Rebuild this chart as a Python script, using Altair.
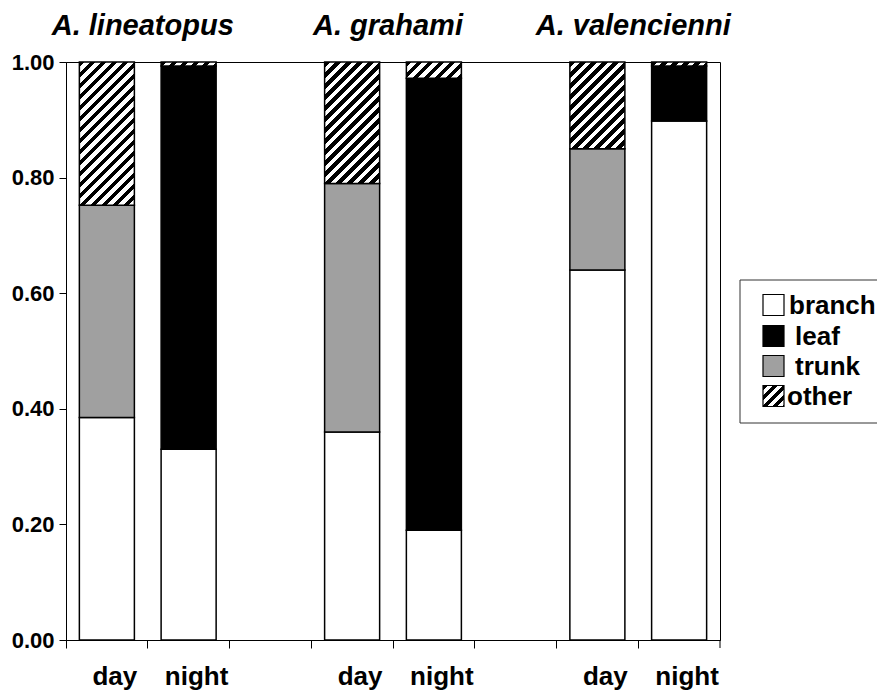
import altair as alt
import pandas as pd

# ---------------- data ----------------
categories = ["lineatopus day", "lineatopus night", "gap1",
              "grahami day", "grahami night", "gap2",
              "valencienni day", "valencienni night"]
bars = ["lineatopus day", "lineatopus night", "grahami day",
        "grahami night", "valencienni day", "valencienni night"]
branch = [0.385, 0.330, 0.360, 0.190, 0.640, 0.898]
leaf = [0.000, 0.663, 0.000, 0.782, 0.000, 0.095]
trunk = [0.367, 0.000, 0.430, 0.000, 0.210, 0.000]
other = [0.248, 0.007, 0.210, 0.028, 0.150, 0.007]

species = ["A. lineatopus", "A. grahami", "A. valencienni"]
species_anchor = ["lineatopus night", "grahami night", "valencienni night"]

legend_names = ["branch", "leaf", "trunk", "other"]
part_names = ["branch", "leaf", "trunk"]
part_colors = ["white", "black", "#a0a0a0"]
y_ticks = [0.0, 0.2, 0.4, 0.6, 0.8, 1.0]

# ---------------- layout ----------------
W, H = 654, 578
BAND_FRAC = 0.673
BAR_W = W / len(categories) * BAND_FRAC
FONT = "Liberation Sans"

rows = []
for i, b in enumerate(bars):
    base = 0.0
    for name, vals in (("branch", branch), ("leaf", leaf), ("trunk", trunk), ("other", other)):
        v = vals[i]
        if v > 0:
            rows.append({"cat": b, "part": name, "y0": round(base, 4), "y1": round(base + v, 4)})
        base += v
seg = pd.DataFrame(rows)
solid = seg[seg.part != "other"]
hatched = seg[seg.part == "other"].reset_index(drop=True)


def hatch(w, h, period=11.0):
    w = float(w)
    h = float(h)
    L = w + h
    s = L / (w * w + h * h)
    stops = []
    d = 0.0
    while d < L:
        a = d / L
        b = min((d + period / 2) / L, 1.0)
        c = min((d + period) / L, 1.0)
        stops += [{"offset": round(a, 4), "color": "black"},
                  {"offset": round(b, 4), "color": "black"},
                  {"offset": round(b, 4), "color": "white"},
                  {"offset": round(c, 4), "color": "white"}]
        d += period
    return {"gradient": "linear", "stops": stops,
            "x1": 0, "y1": 0, "x2": round(w * s, 4), "y2": round(h * s, 4)}


x_enc = alt.X("cat:N", scale=alt.Scale(domain=categories, paddingInner=0, paddingOuter=0),
              axis=alt.Axis(title=None, labelAngle=0, bandPosition=0,
                            labelExpr="indexof(datum.value,'night')>=0 ? 'night' : (indexof(datum.value,'day')>=0 ? 'day' : '')",
                            tickSize=8, labelPadding=15, labelFontSize=26,
                            labelFont=FONT, labelFontWeight="bold", labelColor="black",
                            labelOverlap=False, labelOffset=8,
                            domainColor="black", tickColor="black", grid=False))
y_enc = alt.Y("y0:Q", scale=alt.Scale(domain=[0, 1], nice=False),
              axis=alt.Axis(title=None, values=y_ticks, format=".2f", grid=False,
                            tickSize=7, labelPadding=5, labelFontSize=22,
                            labelFont=FONT, labelFontWeight="bold", labelColor="black",
                            domainColor="black", tickColor="black"))

base_bars = alt.Chart(solid).mark_bar(stroke="black", strokeWidth=1.5,
                                      width=alt.RelativeBandSize(BAND_FRAC)).encode(
    x=x_enc, y=y_enc, y2="y1:Q",
    fill=alt.Fill("part:N", scale=alt.Scale(domain=part_names, range=part_colors), legend=None),
)

layers = [base_bars]
for i in range(len(hatched)):
    r = hatched.iloc[[i]]
    h = float(r.y1.iloc[0] - r.y0.iloc[0]) * H
    layers.append(
        alt.Chart(r).mark_bar(fill=hatch(BAR_W, h), stroke="black", strokeWidth=1.5,
                              width=alt.RelativeBandSize(BAND_FRAC)).encode(
            x=alt.X("cat:N"), y=alt.Y("y0:Q"), y2="y1:Q")
    )

# closing tick at the right end of the x axis
end_tick = alt.Chart(pd.DataFrame({"cat": [categories[-1]]})).mark_rule(
    color="black", strokeWidth=1).encode(
    x=alt.X("cat:N", bandPosition=1), y=alt.value(H), y2=alt.value(H + 8))
layers.append(end_tick)

# species titles, centred on the boundary between the day and night bands
titles = alt.Chart(pd.DataFrame({"cat": species_anchor, "label": species})).mark_text(
    font=FONT, fontSize=29, fontWeight="bold", fontStyle="italic", color="black",
    baseline="alphabetic", align="center", dx=-5,
).encode(x=alt.X("cat:N", bandPosition=0), y=alt.value(-27), text="label:N")
layers.append(titles)

# ---------------- manual legend ----------------
LX, LY0, LY1 = 674, 218, 361
layers.append(alt.Chart(pd.DataFrame({"a": [0]})).mark_rect(
    fill="white", stroke="#333333", strokeWidth=1).encode(
    x=alt.value(LX), x2=alt.value(LX + 250), y=alt.value(LY0), y2=alt.value(LY1)))
SQ = 21
SX = 697
row_y = [243, 274, 304, 334]
text_x = [723, 729, 729, 721]
for i, name in enumerate(legend_names):
    fill = part_colors[i] if i < 3 else hatch(SQ, SQ, period=10)
    layers.append(alt.Chart(pd.DataFrame({"a": [0]})).mark_rect(
        fill=fill, stroke="black", strokeWidth=1.2).encode(
        x=alt.value(SX), x2=alt.value(SX + SQ),
        y=alt.value(row_y[i] - SQ / 2), y2=alt.value(row_y[i] + SQ / 2)))
    layers.append(alt.Chart(pd.DataFrame({"t": [name]})).mark_text(
        font=FONT, fontSize=26, fontWeight="bold", color="black",
        align="left", baseline="middle").encode(
        x=alt.value(text_x[i]), y=alt.value(row_y[i] + 1), text="t:N"))

chart = alt.layer(*layers).properties(
    width=W, height=H,
    autosize=alt.AutoSizeParams(type="none"),
    padding={"left": 58, "top": 54, "right": 157, "bottom": 52},
).configure_view(stroke="black", strokeWidth=1)

chart.save("out.html", embed_options={"renderer": "svg", "actions": False})
